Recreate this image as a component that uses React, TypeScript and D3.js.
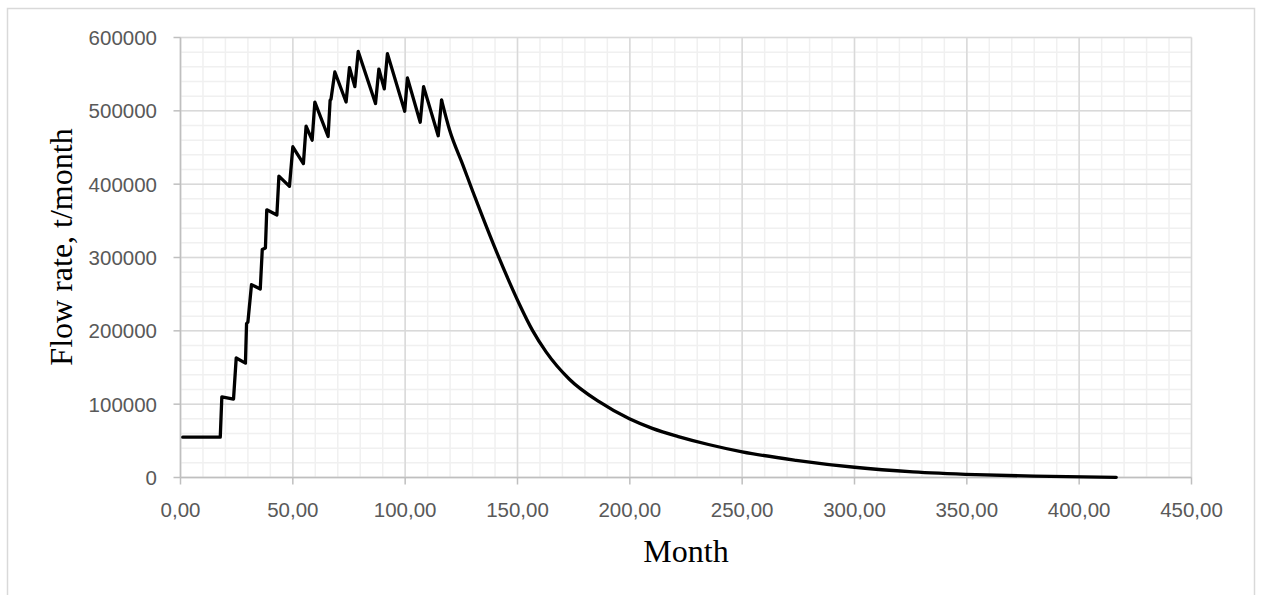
import React from "react";
import * as d3 from "d3";

// Build-up phase: month, flow rate (t/month)
const riseMonths = [1, 17.7, 18.4, 23.6, 24.8, 28.9, 29.4, 30.0, 31.6, 35.5, 36.4, 37.8, 38.4, 42.9, 43.8, 48.5, 50.0, 54.7, 55.9, 58.6, 59.8, 65.7, 66.6, 67.0, 68.7, 73.7, 75.2, 77.6, 79.1, 86.8, 88.3, 90.7, 92.1, 99.8, 101.0, 106.7, 108.2, 114.7, 116.2];
const riseValues = [55000, 55000, 110000, 107000, 163000, 156000, 210000, 212000, 263000, 257000, 311000, 313000, 365000, 358000, 411000, 397000, 451000, 428000, 479000, 460000, 512000, 465000, 514500, 516000, 553000, 512000, 559000, 533000, 581000, 510000, 557000, 530000, 578000, 499500, 545000, 484500, 533000, 466000, 514500];

// Decline phase
const declineMonths = [116.2, 119.7, 125.7, 130.1, 134.5, 140.5, 146.4, 150.9, 156.8, 162.8, 173.1, 186.5, 199.8, 210, 222, 235, 250, 274, 300, 326, 354, 380, 416.5];
const declineValues = [514500, 474500, 426000, 390000, 355000, 309000, 266500, 236000, 200000, 171000, 134000, 103000, 80000, 67000, 55500, 45000, 35000, 23500, 14000, 7800, 4000, 1800, 300];

const xTicks = [0, 50, 100, 150, 200, 250, 300, 350, 400, 450];
const yTicks = [0, 100000, 200000, 300000, 400000, 500000, 600000];

const W = 1262;
const H = 595;
const plot = { left: 180.5, right: 1191.5, top: 37.5, bottom: 477.5 };

export default function App() {
  const x = d3.scaleLinear().domain([0, 450]).range([plot.left, plot.right]);
  const y = d3.scaleLinear().domain([0, 600000]).range([plot.bottom, plot.top]);

  const xMinor = d3.range(0, 451, 10);
  const yMinor = d3.range(0, 600001, 20000);

  const rise: [number, number][] = riseMonths.map((m, i) => [m, riseValues[i]]);
  const decline: [number, number][] = declineMonths.map((m, i) => [m, declineValues[i]]);

  const lineLinear = d3
    .line<[number, number]>()
    .x((d) => x(d[0]))
    .y((d) => y(d[1]));
  const lineSmooth = d3
    .line<[number, number]>()
    .x((d) => x(d[0]))
    .y((d) => y(d[1]))
    .curve(d3.curveMonotoneX);

  const fmtX = (v: number) => v.toFixed(2).replace(".", ",");
  const labelFont = "'Liberation Sans', Arial, sans-serif";
  const titleFont = "'Liberation Serif', 'Times New Roman', serif";

  return (
    <svg
      width={W}
      height={H}
      style={{ position: "absolute", left: 0, top: 0, display: "block", background: "#fff" }}
    >
      <rect x={7.5} y={8.5} width={1247} height={620} fill="#fff" stroke="#d9d9d9" strokeWidth={1.5} />

      {/* minor grid */}
      {xMinor.map((v) => (
        <line key={"xm" + v} x1={x(v)} x2={x(v)} y1={plot.top} y2={plot.bottom} stroke="#f0f0f0" strokeWidth={1.5} />
      ))}
      {yMinor.map((v) => (
        <line key={"ym" + v} x1={plot.left} x2={plot.right} y1={y(v)} y2={y(v)} stroke="#f0f0f0" strokeWidth={1.5} />
      ))}

      {/* major grid */}
      {xTicks.map((v) => (
        <line key={"xg" + v} x1={x(v)} x2={x(v)} y1={plot.top} y2={plot.bottom} stroke="#d9d9d9" strokeWidth={1.5} />
      ))}
      {yTicks.map((v) => (
        <line key={"yg" + v} x1={plot.left} x2={plot.right} y1={y(v)} y2={y(v)} stroke="#d9d9d9" strokeWidth={1.5} />
      ))}

      {/* axes */}
      <line x1={plot.left} x2={plot.right} y1={plot.bottom} y2={plot.bottom} stroke="#bfbfbf" strokeWidth={1.5} />
      <line x1={plot.left} x2={plot.left} y1={plot.top} y2={plot.bottom} stroke="#bfbfbf" strokeWidth={1.5} />
      {xTicks.map((v) => (
        <line key={"xt" + v} x1={x(v)} x2={x(v)} y1={plot.bottom} y2={plot.bottom + 7} stroke="#bfbfbf" strokeWidth={1.5} />
      ))}
      {yTicks.map((v) => (
        <line key={"yt" + v} x1={plot.left - 7} x2={plot.left} y1={y(v)} y2={y(v)} stroke="#bfbfbf" strokeWidth={1.5} />
      ))}

      {/* tick labels */}
      {xTicks.map((v) => (
        <text key={"xl" + v} x={x(v)} y={517} textAnchor="middle" fontFamily={labelFont} fontSize={20.5} fill="#595959">
          {fmtX(v)}
        </text>
      ))}
      {yTicks.map((v) => (
        <text key={"yl" + v} x={157} y={y(v)} dy="0.36em" textAnchor="end" fontFamily={labelFont} fontSize={20.5} fill="#595959">
          {String(v)}
        </text>
      ))}

      {/* data */}
      <path d={lineLinear(rise) ?? ""} fill="none" stroke="#000" strokeWidth={3.3} strokeLinejoin="round" strokeLinecap="round" />
      <path d={lineSmooth(decline) ?? ""} fill="none" stroke="#000" strokeWidth={3.3} strokeLinejoin="round" strokeLinecap="round" />

      {/* axis titles */}
      <text x={686} y={562} textAnchor="middle" fontFamily={titleFont} fontSize={32} fill="#000">
        Month
      </text>
      <text
        transform="translate(72,247) rotate(-90)"
        textAnchor="middle"
        fontFamily={titleFont}
        fontSize={32}
        fill="#000"
      >
        Flow rate, t/month
      </text>
    </svg>
  );
}
